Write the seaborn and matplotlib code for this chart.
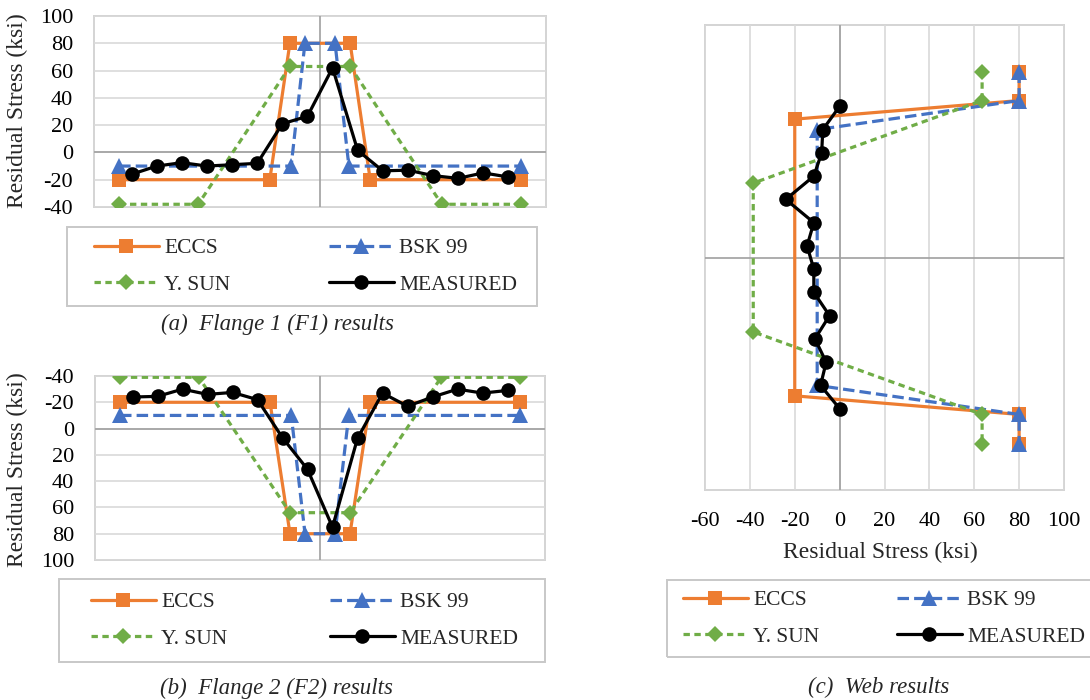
import matplotlib
matplotlib.use("Agg")
import matplotlib.pyplot as plt
from matplotlib.patches import Rectangle
import seaborn as sns

# ---------------- data ----------------
SERIES = ["ECCS", "BSK 99", "Y. SUN", "MEASURED"]

# position across the flange width (axis not labelled)
FL_X_ECCS = [-8, -2, -1.2, 1.2, 2, 8]
FL_X_BSK = [-8, -1.15, -0.6, 0.6, 1.15, 8]
FL_X_SUN = [-8, -4.85, -1.2, 1.2, 4.85, 8]
FL_X_MEAS = [-7.5, -6.5, -5.5, -4.5, -3.5, -2.5, -1.5, -0.5,
             0.5, 1.5, 2.5, 3.5, 4.5, 5.5, 6.5, 7.5]

# Flange 1 residual stress (ksi)
F1_ECCS = [-20, -20, 80, 80, -20, -20]
F1_BSK = [-10, -10, 80, 80, -10, -10]
F1_SUN = [-38, -38, 63, 63, -38, -38]
F1_MEAS = [-16, -10, -7.5, -10, -9, -8, 21, 26.5,
           62, 1.5, -13.5, -13, -17, -19, -15, -18]

# Flange 2 residual stress (ksi)
F2_ECCS = [-20, -20, 80, 80, -20, -20]
F2_BSK = [-10, -10, 80, 80, -10, -10]
F2_SUN = [-39, -39, 64, 64, -39, -39]
F2_MEAS = [-24, -24.5, -30, -26, -27.5, -22, 7, 31,
           75, 7.5, -27, -17, -24, -30, -27, -29]

# Web: position along web height (axis not labelled) and stress (ksi)
WEB_Y_ECCS = [8, 6.75, 5.95, -5.95, -6.75, -8]
WEB_Y_BSK = [8, 6.75, 5.5, -5.5, -6.75, -8]
WEB_Y_SUN = [8, 6.75, 3.2, -3.2, -6.75, -8]
WEB_Y_MEAS = [6.5, 5.5, 4.5, 3.5, 2.5, 1.5, 0.5,
              -0.5, -1.5, -2.5, -3.5, -4.5, -5.5, -6.5]
WEB_ECCS = [80, 80, -20, -20, 80, 80]
WEB_BSK = [80, 80, -10, -10, 80, 80]
WEB_SUN = [63.5, 63.5, -38.5, -38.5, 63.5, 63.5]
WEB_MEAS = [0, -7.5, -8, -11.5, -24, -11.5, -14.5,
            -11.5, -11.5, -4.5, -11, -6, -8.5, 0]

FLANGE_TICKS = [-40, -20, 0, 20, 40, 60, 80, 100]
WEB_TICKS = [-60, -40, -20, 0, 20, 40, 60, 80, 100]

CAPTIONS = ["(a)  Flange 1 (F1) results", "(b)  Flange 2 (F2) results", "(c)  Web results"]
AXIS_TITLE = "Residual Stress (ksi)"

# ---------------- style ----------------
sns.set_theme(style="white")
plt.rcParams['font.family'] = ['Liberation Serif', 'DejaVu Serif']
plt.rcParams['axes.unicode_minus'] = False

COLORS = {"ECCS": "#ED7D31", "BSK 99": "#4472C4", "Y. SUN": "#70AD47", "MEASURED": "#000000"}
STYLE = {
    "ECCS": dict(marker="s", ms=10.5, lw=2.3, ls="-"),
    "BSK 99": dict(marker="^", ms=11.5, lw=2.3, ls=(0, (3.6, 1.6))),
    "Y. SUN": dict(marker="D", ms=8.0, lw=2.3, ls=(0, (2.0, 1.4))),
    "MEASURED": dict(marker="o", ms=10.5, lw=2.3, ls="-"),
}

W, H = 1090, 700
fig = plt.figure(figsize=(W / 100, H / 100), dpi=100)
fig.patch.set_facecolor("white")


def px_axes(l, t, r, b):
    return fig.add_axes([l / W, 1 - b / H, (r - l) / W, (b - t) / H])


def draw(ax, pairs):
    for z, (name, (xs, ys)) in enumerate(zip(SERIES, pairs)):
        st = STYLE[name]
        sns.lineplot(x=xs, y=ys, ax=ax, sort=False, estimator=None, legend=False,
                     label=name, color=COLORS[name], marker=st["marker"],
                     markersize=st["ms"], markeredgewidth=0,
                     markeredgecolor=COLORS[name], linewidth=st["lw"],
                     linestyle=st["ls"], zorder=3 + z)


def style_axes(ax):
    ax.set_facecolor("white")
    for s in ax.spines.values():
        s.set_color("#D4D4D4")
        s.set_linewidth(1.4)
        s.set_zorder(0.5)
    ax.tick_params(length=0, labelsize=16, colors="black")
    ax.set_xlabel("")
    ax.set_ylabel("")


def add_legend(ax, frame, inner):
    l, t, r, b = frame
    fig.add_artist(Rectangle((l / W, 1 - b / H), (r - l) / W, (b - t) / H,
                             transform=fig.transFigure, fill=False,
                             edgecolor="#C8C8C8", linewidth=1.4))
    handles, labels = ax.get_legend_handles_labels()
    order = [0, 2, 1, 3]
    il, ir = inner
    fig.legend([handles[i] for i in order], [labels[i] for i in order],
               loc="center", bbox_to_anchor=(il / W, 1 - b / H, (ir - il) / W, (b - t) / H),
               bbox_transform=fig.transFigure, mode="expand", ncol=2, frameon=False,
               fontsize=15.5, handlelength=3.0, handletextpad=0.25,
               labelspacing=0.75, borderpad=0, borderaxespad=0)


# ---------------- (a) Flange 1 ----------------
axa = px_axes(94, 16, 546, 207)
style_axes(axa)
draw(axa, [(FL_X_ECCS, F1_ECCS), (FL_X_BSK, F1_BSK), (FL_X_SUN, F1_SUN), (FL_X_MEAS, F1_MEAS)])
axa.set_xlim(-9, 9)
axa.set_ylim(-40, 100)
axa.set_yticks(FLANGE_TICKS)
axa.set_xticks([])
axa.grid(axis="y", color="#D9D9D9", linewidth=1.2, zorder=0)
axa.axhline(0, color="#A0A0A0", linewidth=1.2, zorder=1)
axa.axvline(0, color="#A0A0A0", linewidth=1.2, zorder=1)
axa.tick_params(axis="y", pad=15)
axa.set_axisbelow(True)
fig.text(17 / W, 1 - 111 / H, AXIS_TITLE, rotation=90, ha="center", va="center", fontsize=17)
add_legend(axa, (67, 227, 537, 306), (94, 517))
fig.text(277 / W, 1 - 324 / H, CAPTIONS[0], ha="center", va="center", style="italic", fontsize=16.5)

# ---------------- (b) Flange 2 ----------------
axb = px_axes(95, 376, 545, 560)
style_axes(axb)
draw(axb, [(FL_X_ECCS, F2_ECCS), (FL_X_BSK, F2_BSK), (FL_X_SUN, F2_SUN), (FL_X_MEAS, F2_MEAS)])
axb.set_xlim(-9, 9)
axb.set_ylim(100, -40)
axb.set_yticks(FLANGE_TICKS)
axb.set_xticks([])
axb.grid(axis="y", color="#D9D9D9", linewidth=1.2, zorder=0)
axb.axhline(0, color="#A0A0A0", linewidth=1.2, zorder=1)
axb.axvline(0, color="#A0A0A0", linewidth=1.2, zorder=1)
axb.tick_params(axis="y", pad=15)
axb.set_axisbelow(True)
fig.text(17 / W, 1 - 470 / H, AXIS_TITLE, rotation=90, ha="center", va="center", fontsize=17)
add_legend(axb, (59, 579, 545, 662), (91, 518))
fig.text(276 / W, 1 - 688 / H, CAPTIONS[1], ha="center", va="center", style="italic", fontsize=16.5)

# ---------------- (c) Web ----------------
axc = px_axes(705, 25, 1064, 490)
style_axes(axc)
draw(axc, [(WEB_ECCS, WEB_Y_ECCS), (WEB_BSK, WEB_Y_BSK), (WEB_SUN, WEB_Y_SUN), (WEB_MEAS, WEB_Y_MEAS)])
axc.set_xlim(-60, 100)
axc.set_ylim(-10, 10)
axc.set_xticks(WEB_TICKS)
axc.set_yticks([])
axc.grid(axis="x", color="#D9D9D9", linewidth=1.2, zorder=0)
axc.axhline(0, color="#A0A0A0", linewidth=1.2, zorder=1)
axc.axvline(0, color="#A0A0A0", linewidth=1.2, zorder=1)
axc.tick_params(axis="x", pad=16)
axc.set_axisbelow(True)
fig.text(880 / W, 1 - 552 / H, AXIS_TITLE, ha="center", va="center", fontsize=17)
add_legend(axc, (667, 580, 1100, 657), (683, 1085))
fig.text(879 / W, 1 - 687 / H, CAPTIONS[2], ha="center", va="center", style="italic", fontsize=16.5)

fig.savefig("out.png", dpi=100, facecolor="white")
